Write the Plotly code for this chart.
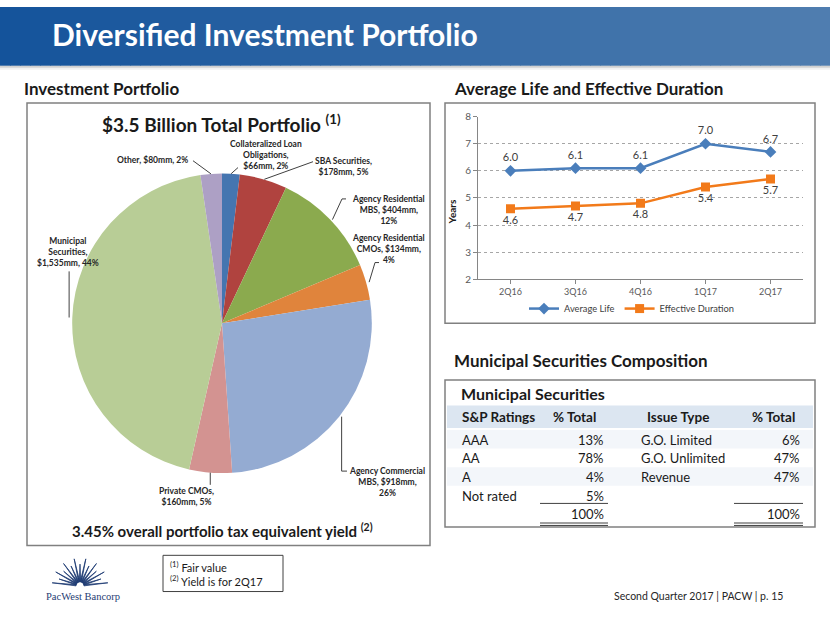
import math
import plotly.graph_objects as go

W, H = 830, 623

# ---------------- data ----------------
pie_labels = ["Collateralized Loan Obligations", "SBA Securities", "Agency Residential MBS",
              "Agency Residential CMOs", "Agency Commercial MBS", "Private CMOs",
              "Municipal Securities", "Other"]
pie_values_mm = [66, 178, 404, 134, 918, 160, 1535, 80]
portfolio_yield = 3.45

quarters = ["2Q16", "3Q16", "4Q16", "1Q17", "2Q17"]
average_life = [6.0, 6.1, 6.1, 7.0, 6.7]
effective_duration = [4.6, 4.7, 4.8, 5.4, 5.7]

ratings = ["AAA", "AA", "A", "Not rated"]
rating_pct = [13, 78, 4, 5]
issue_types = ["G.O. Limited", "G.O. Unlimited", "Revenue"]
issue_pct = [6, 47, 47]

# ---------------- styles ----------------
FONT = "Lato, 'Open Sans', sans-serif"
pie_colors = ["#4575B0", "#B0433F", "#8BAA4E", "#E0843C", "#94ABD2", "#D39391", "#B8CD96", "#ADA0C5"]
# word indices after which a label line breaks
label_breaks = [[2, 3], [2], [2, 4], [2, 4], [2, 4], [2], [1, 2], []]
# label centre (px) and anchor
label_pos = [(266, 151, "center"), (343, 163, "center"), (388, 207, "center"), (388, 247, "center"),
             (387, 485, "center"), (186, 500, "center"), (68, 250, "center"), (190, 156, "right")]
# leader line points after the slice edge point (None x = same x as edge)
leader_pts = [[(238, 164)], [(313, 158)], [(342, 196), (346, 196)], [(375, 261), (379, 261)],
              [(None, 474), (347, 474)], [(None, 488)], [(None, 270)], [(193, 157)]]
PIE_CX, PIE_CY, PIE_R = 222, 323, 153


def X(px):
    return px / W


def Y(py):
    return 1 - py / H


shapes = []
annotations = []


def rect(x0, y0, x1, y1, fill=None, line=None, lw=0, layer="below"):
    d = dict(type="rect", xref="paper", yref="paper", x0=X(x0), x1=X(x1), y0=Y(y1), y1=Y(y0),
             layer=layer, line=dict(width=lw, color=line or "rgba(0,0,0,0)"))
    if fill:
        d["fillcolor"] = fill
    shapes.append(d)


def hline(x0, x1, y, color="#404040", w=1):
    shapes.append(dict(type="line", xref="paper", yref="paper", x0=X(x0), x1=X(x1), y0=Y(y), y1=Y(y),
                       line=dict(color=color, width=w)))


def text(x, y, s, size, color="#1a1a1a", xanchor="left", yanchor="middle", bold=False, family=FONT,
         align=None):
    annotations.append(dict(xref="paper", yref="paper", x=X(x), y=Y(y), text=(f"<b>{s}</b>" if bold else s),
                            showarrow=False, xanchor=xanchor, yanchor=yanchor,
                            align=align or ("center" if xanchor == "center" else xanchor),
                            font=dict(size=size, color=color, family=family)))


# ---------------- header band ----------------
c0 = (20, 83, 155)
c1 = (80, 126, 176)
N = 84
for i in range(N):
    t = i / (N - 1)
    col = tuple(round(c0[k] + (c1[k] - c0[k]) * t) for k in range(3))
    rect(i * 10, 0, i * 10 + 10.6, 60, fill=f"rgb{col}")
rect(0, 60, 830, 62, fill="rgba(120,120,120,0.35)")
rect(0, 62, 830, 64, fill="rgba(160,160,160,0.15)")
text(50, 28, "Diversified Investment Portfolio", 30, color="white", bold=True)

# ---------------- section headings ----------------
text(22, 83, "Investment Portfolio", 17, bold=True)
text(452, 83, "Average Life and Effective Duration", 17, bold=True)
text(452, 361, "Municipal Securities Composition", 17, bold=True)

# ---------------- boxes ----------------
rect(27, 98, 430, 550, line="#808080", lw=1.5)
rect(445, 98, 815, 323, line="#808080", lw=1.5)
rect(445, 381, 815, 531, line="#808080", lw=1.5)

# ---------------- pie ----------------
total = sum(pie_values_mm)
pcts = [round(v / total * 100) for v in pie_values_mm]
text(221, 119, f"${total / 1000:.1f} Billion Total Portfolio <sup>(1)</sup>", 19, xanchor="center", bold=True)
text(222, 535, f"{portfolio_yield:.2f}% overall portfolio tax equivalent yield <sup>(2)</sup>", 15,
     xanchor="center", bold=True)

fig = go.Figure()
fig.add_trace(go.Pie(labels=pie_labels, values=pie_values_mm, sort=False, direction="clockwise",
                     rotation=0, textinfo="none", textposition="none", showlegend=False,
                     marker=dict(colors=pie_colors, line=dict(width=0)),
                     domain=dict(x=[X(PIE_CX - PIE_R), X(PIE_CX + PIE_R)],
                                 y=[Y(PIE_CY + PIE_R), Y(PIE_CY - PIE_R)])))

cum = 0
for i, (lab, v, p) in enumerate(zip(pie_labels, pie_values_mm, pcts)):
    mid = (cum + v / 2) / total * 2 * math.pi
    cum += v
    ex = PIE_CX + PIE_R * math.sin(mid)
    ey = PIE_CY - PIE_R * math.cos(mid)
    pts = [(ex, ey)] + [((ex if px is None else px), py) for px, py in leader_pts[i]]
    path = "M " + " L ".join(f"{X(a):.5f},{Y(b):.5f}" for a, b in pts)
    shapes.append(dict(type="path", xref="paper", yref="paper", path=path,
                       line=dict(color="#404040", width=1)))
    words = f"{lab}, ${v:,}mm, {p}%".split(" ")
    lines, cur = [], []
    for k, w in enumerate(words, start=1):
        cur.append(w)
        if k in label_breaks[i]:
            lines.append(" ".join(cur))
            cur = []
    lines.append(" ".join(cur))
    lx, ly, anc = label_pos[i]
    text(lx, ly, "<br>".join(lines), 8.5, color="#262626", xanchor=anc, bold=True)

# ---------------- line chart ----------------
fig.add_trace(go.Scatter(x=quarters, y=average_life, mode="lines+markers+text", name="Average Life",
                         text=[f"{v:.1f}" for v in average_life], textposition="top center",
                         textfont=dict(size=11, color="#404040"),
                         line=dict(color="#4A7EBB", width=2.5),
                         marker=dict(symbol="diamond", size=9, color="#4A7EBB")))
fig.add_trace(go.Scatter(x=quarters, y=effective_duration, mode="lines+markers+text", name="Effective Duration",
                         text=[f"{v:.1f}" for v in effective_duration], textposition="bottom center",
                         textfont=dict(size=11, color="#404040"),
                         line=dict(color="#F27A1A", width=2.5),
                         marker=dict(symbol="square", size=9, color="#F27A1A")))
annotations.append(dict(xref="paper", yref="paper", x=X(452), y=Y(195), text="<b>Years</b>", showarrow=False,
                        textangle=-90, font=dict(size=10, color="#1a1a1a", family=FONT)))

# ---------------- table ----------------
text(459, 395, "Municipal Securities", 16, bold=True)
rect(447, 407, 813, 430, fill="#DCE6F1")
row_y = [442, 461, 480, 499]
for k in (0, 2):
    rect(447, row_y[k] - 10, 813, row_y[k] + 9, fill="#F3F6FA")
text(460, 419, "S&P Ratings", 13.5, bold=True)
text(574, 419, "% Total", 13.5, xanchor="center", bold=True)
text(678, 419, "Issue Type", 13.5, xanchor="center", bold=True)
text(773, 419, "% Total", 13.5, xanchor="center", bold=True)
for k, (r, p) in enumerate(zip(ratings, rating_pct)):
    text(460, row_y[k], r, 13)
    text(606, row_y[k], f"{p}%", 13, xanchor="right")
for k, (t_, p) in enumerate(zip(issue_types, issue_pct)):
    text(639, row_y[k], t_, 13)
    text(802, row_y[k], f"{p}%", 13, xanchor="right")
text(606, 518, f"{sum(rating_pct)}%", 13, xanchor="right")
text(802, 518, f"{sum(issue_pct)}%", 13, xanchor="right")
for a, b in ((540, 608), (734, 803)):
    hline(a, b, 507, color="#404040", w=1)
    hline(a, b, 527, color="#404040", w=1)
    hline(a, b, 529.5, color="#404040", w=1)

# ---------------- footer ----------------
rect(163, 560, 283, 597, line="#404040", lw=1)
text(168, 579, "<sup>(1)</sup> Fair value<br><sup>(2)</sup> Yield is for 2Q17", 11, color="#1a1a1a")
text(785, 602, "Second Quarter 2017 | PACW | p. 15", 10.5, color="#262626", xanchor="right")

# logo (sunburst)
LX, LY = 80, 591
navy = "#1F3C73"
for k in range(15):
    a = math.radians(6 + k * 12)
    L = 28 if k % 2 == 0 else 22
    r0 = 4
    hw = math.radians(9)
    p1 = (LX + r0 * math.cos(a - hw), LY - r0 * math.sin(a - hw))
    p2 = (LX + L * math.cos(a), LY - L * math.sin(a))
    p3 = (LX + r0 * math.cos(a + hw), LY - r0 * math.sin(a + hw))
    path = f"M {X(p1[0]):.5f},{Y(p1[1]):.5f} L {X(p2[0]):.5f},{Y(p2[1]):.5f} L {X(p3[0]):.5f},{Y(p3[1]):.5f} Z"
    shapes.append(dict(type="path", xref="paper", yref="paper", path=path, fillcolor=navy,
                       line=dict(width=0.8, color=navy)))
text(83, 602, "PacWest Bancorp", 10.5, color=navy, xanchor="center", family="'Liberation Serif', serif")

fig.update_layout(
    width=W, height=H, autosize=False, margin=dict(l=0, r=0, t=0, b=0),
    paper_bgcolor="white", plot_bgcolor="white",
    font=dict(family=FONT, color="#1a1a1a"),
    xaxis=dict(domain=[X(478), X(803)], type="category", range=[-0.5, 4.5], showgrid=False,
               showline=True, linecolor="#868686", linewidth=1, ticks="outside", ticklen=4,
               tickcolor="#868686", tickfont=dict(size=9, color="#595959"), fixedrange=True),
    yaxis=dict(domain=[Y(278), Y(112)], range=[2, 8], dtick=1, showgrid=True, gridcolor="#A6A6A6",
               griddash="dot", showline=True, linecolor="#868686", linewidth=1, ticks="outside",
               ticklen=4, tickcolor="#868686", tickfont=dict(size=10, color="#595959"),
               zeroline=False, fixedrange=True),
    legend=dict(orientation="h", x=X(632), xanchor="center", y=Y(308), yanchor="middle",
                font=dict(size=9.3, color="#404040"), bgcolor="rgba(0,0,0,0)", itemwidth=30,
                tracegroupgap=0),
    shapes=shapes, annotations=annotations,
)

fig.write_html("out.html", config={"displayModeBar": False},
               post_script="document.body.style.margin='0';document.body.style.padding='0';")
